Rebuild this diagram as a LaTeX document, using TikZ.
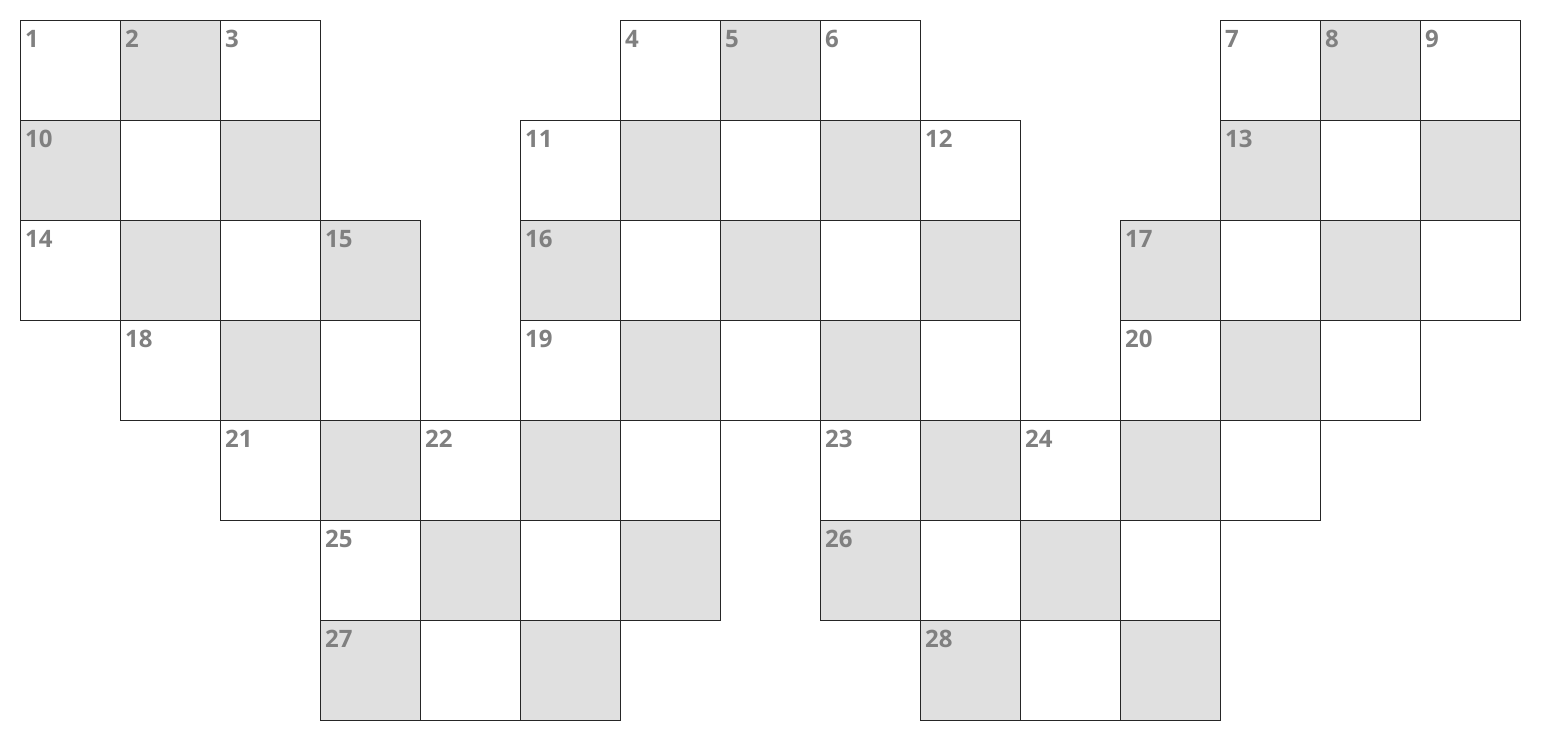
\documentclass[tikz,border=0pt]{standalone}
\usepackage{fontspec}
\setmainfont{Open Sans}
\begin{document}
\begin{tikzpicture}[x=1pt,y=-1pt,
  cellw/.style={draw=black!85,line width=0.9pt,fill=white,minimum size=100pt,inner sep=0pt,outer sep=0pt,anchor=north west},
  cellg/.style={cellw,fill=black!12},
  num/.style={anchor=base west,inner sep=0pt,text=black!50,font=\fontsize{24}{24}\selectfont\bfseries}]
\useasboundingbox (0,0) rectangle (1550,750);
\foreach \c/\r/\t/\n in {
 0/0/w/1, 1/0/g/2, 2/0/w/3, 6/0/w/4, 7/0/g/5, 8/0/w/6, 12/0/w/7, 13/0/g/8, 14/0/w/9,
 0/1/g/10, 1/1/w/, 2/1/g/, 5/1/w/11, 6/1/g/, 7/1/w/, 8/1/g/, 9/1/w/12, 12/1/g/13, 13/1/w/, 14/1/g/,
 0/2/w/14, 1/2/g/, 2/2/w/, 3/2/g/15, 5/2/g/16, 6/2/w/, 7/2/g/, 8/2/w/, 9/2/g/, 11/2/g/17, 12/2/w/, 13/2/g/, 14/2/w/,
 1/3/w/18, 2/3/g/, 3/3/w/, 5/3/w/19, 6/3/g/, 7/3/w/, 8/3/g/, 9/3/w/, 11/3/w/20, 12/3/g/, 13/3/w/,
 2/4/w/21, 3/4/g/, 4/4/w/22, 5/4/g/, 6/4/w/, 8/4/w/23, 9/4/g/, 10/4/w/24, 11/4/g/, 12/4/w/,
 3/5/w/25, 4/5/g/, 5/5/w/, 6/5/g/, 8/5/g/26, 9/5/w/, 10/5/g/, 11/5/w/,
 3/6/g/27, 4/6/w/, 5/6/g/, 9/6/g/28, 10/6/w/, 11/6/g/}
{
  \node[cell\t] (c\c-\r) at ({20+100*\c},{20+100*\r}) {};
  \node[num] (n\c-\r) at ({25+100*\c},{47+100*\r}) {\n};
}
\end{tikzpicture}
\end{document}
